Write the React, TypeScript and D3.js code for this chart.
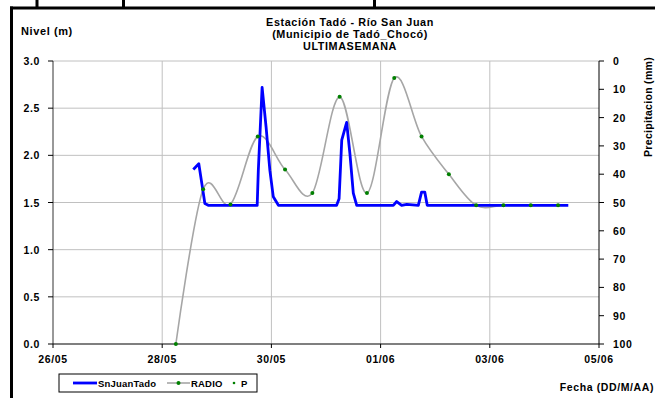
import React from "react";
import * as d3 from "d3";

const W = 655;
const H = 398;

// SnJuanTado (nivel, m)
const levelTimes = [
  "2014-05-28T13:40", "2014-05-28T16:05", "2014-05-28T18:00", "2014-05-28T18:45", "2014-05-28T20:15",
  "2014-05-29T17:45", "2014-05-29T18:15", "2014-05-29T19:55", "2014-05-29T21:40", "2014-05-29T23:20",
  "2014-05-30T00:50", "2014-05-30T03:05", "2014-05-31T04:40", "2014-05-31T05:45", "2014-05-31T06:55",
  "2014-05-31T09:05", "2014-05-31T10:30", "2014-05-31T12:00", "2014-05-31T13:30", "2014-06-01T05:35",
  "2014-06-01T07:05", "2014-06-01T09:15", "2014-06-01T11:30", "2014-06-01T16:35", "2014-06-01T18:00",
  "2014-06-01T19:25", "2014-06-01T20:30", "2014-06-04T10:30",
];
const levelValues = [
  1.85, 1.91, 1.61, 1.49, 1.47,
  1.47, 1.84, 2.72, 2.30, 1.84,
  1.56, 1.47, 1.47, 1.54, 2.16,
  2.35, 2.02, 1.60, 1.47, 1.47,
  1.51, 1.47, 1.48, 1.47, 1.61,
  1.61, 1.47, 1.47,
];

// RADIO (nivel, m)
const radioTimes = [
  "2014-05-28T06:00", "2014-05-28T18:00", "2014-05-29T06:00", "2014-05-29T18:00", "2014-05-30T06:00",
  "2014-05-30T18:00", "2014-05-31T06:00", "2014-05-31T18:00", "2014-06-01T06:00", "2014-06-01T18:00",
  "2014-06-02T06:00", "2014-06-02T18:00", "2014-06-03T06:00", "2014-06-03T18:00", "2014-06-04T06:00",
];
const radioValues = [0.0, 1.64, 1.48, 2.2, 1.85, 1.6, 2.62, 1.6, 2.82, 2.2, 1.8, 1.47, 1.47, 1.47, 1.47];

// P (precipitación, mm) - no visible values
const precipTimes: string[] = [];
const precipValues: number[] = [];

const xTickDates = ["2014-05-26", "2014-05-28", "2014-05-30", "2014-06-01", "2014-06-03", "2014-06-05"];
const leftTicks = [0, 0.5, 1.0, 1.5, 2.0, 2.5, 3.0];
const rightTicks = [0, 10, 20, 30, 40, 50, 60, 70, 80, 90, 100];
const titleLines = ["Estación Tadó - Río San Juan", "(Municipio de Tadó_Chocó)", "ULTIMASEMANA"];
const legendLabels = ["SnJuanTado", "RADIO", "P"];

const parse = (s: string) => new Date(s);

export default function App() {
  const L = 53, R = 599, T = 61, B = 344;
  const x = d3.scaleTime().domain([parse("2014-05-26T00:00"), parse("2014-06-05T00:00")]).range([L, R]);
  const yL = d3.scaleLinear().domain([0, 3]).range([B, T]);
  const yR = d3.scaleLinear().domain([0, 100]).range([T, B]);
  const fmt = d3.timeFormat("%d/%m");

  const levelData = levelTimes.map((t, i) => ({ t: parse(t), v: levelValues[i] }));
  const radioData = radioTimes.map((t, i) => ({ t: parse(t), v: radioValues[i] }));
  const precipData = precipTimes.map((t, i) => ({ t: parse(t), v: precipValues[i] }));

  const levelLine = d3.line<{ t: Date; v: number }>().x(d => x(d.t)).y(d => yL(d.v));
  const radioLine = d3
    .line<{ t: Date; v: number }>()
    .x(d => x(d.t))
    .y(d => yL(d.v))
    .curve(d3.curveCatmullRom.alpha(0));

  const font = "'Liberation Sans', Arial, sans-serif";
  const txt = { fontFamily: font, fontWeight: 700 as const, fill: "#000" };
  const ls = 0.6;

  const legX = 59, legY = 374, legW = 198, legH = 18;

  return (
    <svg width={W} height={H} style={{ position: "absolute", left: 0, top: 0, background: "#fff" }}>
      <rect x={0} y={0} width={W} height={H} fill="#fff" />
      {/* frame */}
      <rect x={35.5} y={0} width={3} height={7} fill="#000" />
      <rect x={122} y={0} width={3} height={7} fill="#000" />
      <rect x={373} y={0} width={3} height={7} fill="#000" />
      <rect x={10} y={6.5} width={W - 10} height={3} fill="#000" />
      <rect x={10} y={6.5} width={3} height={H - 6.5} fill="#000" />

      {/* titles */}
      {titleLines.map((s, i) => (
        <text key={i} x={350} y={26 + i * 11.8} textAnchor="middle" fontSize={10.8} letterSpacing={ls} {...txt}>
          {s}
        </text>
      ))}
      <text x={21} y={35} fontSize={11} letterSpacing={ls} {...txt}>Nivel (m)</text>

      {/* grid */}
      {leftTicks.filter(v => v > 0).map(v => (
        <line key={"gh" + v} x1={L} x2={R} y1={yL(v)} y2={yL(v)} stroke="#c0c0c0" strokeWidth={1} />
      ))}
      {xTickDates.slice(1, -1).map(d => (
        <line key={"gv" + d} x1={x(parse(d + "T00:00"))} x2={x(parse(d + "T00:00"))} y1={T} y2={B} stroke="#c0c0c0" strokeWidth={1} />
      ))}

      {/* axes */}
      <line x1={L} x2={L} y1={T} y2={B} stroke="#333" strokeWidth={1} />
      <line x1={L} x2={R} y1={B} y2={B} stroke="#000" strokeWidth={1.2} />
      <line x1={R} x2={R} y1={T} y2={B} stroke="#000" strokeWidth={1} />
      {leftTicks.map(v => (
        <g key={"lt" + v}>
          <line x1={L - 5} x2={L} y1={yL(v)} y2={yL(v)} stroke="#000" />
          <text x={40} y={yL(v) + 4} textAnchor="end" fontSize={10.5} letterSpacing={ls} {...txt}>
            {v.toFixed(1)}
          </text>
        </g>
      ))}
      {rightTicks.map(v => (
        <g key={"rt" + v}>
          <line x1={R} x2={R + 5} y1={yR(v)} y2={yR(v)} stroke="#000" />
          <text x={613} y={yR(v) + 4} fontSize={10.5} letterSpacing={ls} {...txt}>
            {v}
          </text>
        </g>
      ))}
      {xTickDates.map(d => {
        const px = x(parse(d + "T00:00"));
        return (
          <g key={"xt" + d}>
            <line x1={px} x2={px} y1={B} y2={B + 4} stroke="#000" />
            <text x={px} y={363} textAnchor="middle" fontSize={10.5} letterSpacing={ls} {...txt}>
              {fmt(parse(d + "T00:00"))}
            </text>
          </g>
        );
      })}
      <text
        transform={`translate(652,107) rotate(-90)`}
        textAnchor="middle"
        fontSize={10.5}
        letterSpacing={0.3}
        {...txt}
      >
        Precipitacion (mm)
      </text>
      <text x={654} y={391} textAnchor="end" fontSize={10.5} letterSpacing={ls} {...txt}>Fecha (DD/M/AA)</text>

      {/* series */}
      <path d={radioLine(radioData) || ""} fill="none" stroke="#a6a6a6" strokeWidth={1.6} />
      <path d={levelLine(levelData) || ""} fill="none" stroke="#0000ff" strokeWidth={2.8} strokeLinejoin="round" />
      {radioData.map((d, i) => (
        <circle key={"rd" + i} cx={x(d.t)} cy={yL(d.v)} r={2} fill="#008000" />
      ))}
      {precipData.map((d, i) => (
        <circle key={"pd" + i} cx={x(d.t)} cy={yR(d.v)} r={1.5} fill="#008000" />
      ))}

      {/* legend */}
      <rect x={legX} y={legY} width={legW} height={legH} fill="#fff" stroke="#000" strokeWidth={1} />
      <g>
        <line x1={legX + 14} x2={legX + 38} y1={legY + 9} y2={legY + 9} stroke="#0000ff" strokeWidth={2.8} />
        <text x={legX + 39} y={legY + 12.5} fontSize={9.5} letterSpacing={0.2} {...txt}>{legendLabels[0]}</text>
        <line x1={legX + 108} x2={legX + 131} y1={legY + 9} y2={legY + 9} stroke="#a6a6a6" strokeWidth={1.6} />
        <circle cx={legX + 119.5} cy={legY + 9} r={2} fill="#008000" />
        <text x={legX + 132} y={legY + 12.5} fontSize={9.5} letterSpacing={0.2} {...txt}>{legendLabels[1]}</text>
        <circle cx={legX + 175} cy={legY + 9} r={1.3} fill="#008000" />
        <text x={legX + 182} y={legY + 12.5} fontSize={9.5} letterSpacing={0.2} {...txt}>{legendLabels[2]}</text>
      </g>
    </svg>
  );
}
